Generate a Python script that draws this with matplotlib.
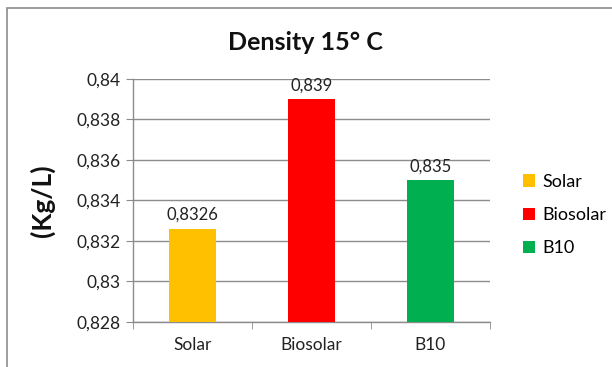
import matplotlib.pyplot as plt
from matplotlib.patches import Rectangle
from matplotlib.ticker import FuncFormatter, FixedLocator

plt.rcParams['font.family'] = ['Lato', 'DejaVu Sans']

categories = ['Solar', 'Biosolar', 'B10']
density = [0.8326, 0.839, 0.835]
labels = ['0,8326', '0,839', '0,835']
colors = ['#FFC000', '#FF0000', '#00B050']
yticks = [0.828, 0.83, 0.832, 0.834, 0.836, 0.838, 0.84]

fig = plt.figure(figsize=(6.12, 3.67), dpi=100)
# chart border (cut off at right and bottom like the original)
fig.patches.append(Rectangle((7 / 612, -0.1), 1.2, 1 - 8 / 367 + 0.1, transform=fig.transFigure,
                             fill=False, edgecolor='#8c8c8c', linewidth=1.2))

ax = fig.add_axes([133 / 612, 1 - 322 / 367, 357 / 612, 243 / 367])
x = range(len(categories))
bars = ax.bar(x, density, width=0.4, color=colors, label=categories, zorder=3)
for b, t in zip(bars, labels):
    ax.text(b.get_x() + b.get_width() / 2, b.get_height() + 0.0003, t,
            ha='center', va='bottom', fontsize=12, color='#222222')

ax.set_xlim(-0.5, 2.5)
ax.set_ylim(0.828, 0.84)
ax.set_yticks(yticks)
ax.yaxis.set_major_formatter(FuncFormatter(lambda v, p: ('%g' % round(v, 4)).replace('.', ',')))
ax.set_xticks(list(x))
ax.set_xticklabels(categories)
ax.xaxis.set_minor_locator(FixedLocator([-0.5, 0.5, 1.5, 2.5]))
ax.tick_params(axis='x', which='major', length=0, pad=11, labelsize=12.5, labelcolor='#222222')
ax.tick_params(axis='x', which='minor', length=5, color='#8c8c8c')
ax.tick_params(axis='y', length=5, color='#8c8c8c', labelsize=12.5, labelcolor='#222222', pad=4)
ax.grid(axis='y', color='#8c8c8c', linewidth=1, zorder=0)
for s in ['top', 'right']:
    ax.spines[s].set_visible(False)
ax.spines['left'].set_color('#8c8c8c')
ax.spines['bottom'].set_color('#8c8c8c')
ax.spines['left'].set_linewidth(1)
ax.spines['bottom'].set_linewidth(1)

fig.text(305 / 612, 1 - 42 / 367, 'Density 15° C', ha='center', va='center',
         fontsize=18, fontweight='bold', color='#111111')
fig.text(42 / 612, 1 - 201 / 367, '(Kg/L)', ha='center', va='center', rotation=90,
         fontsize=19, fontweight='bold', color='#111111')

ax.legend(loc='center left', bbox_to_anchor=(516 / 612, 1 - 215 / 367), bbox_transform=fig.transFigure,
          frameon=False, fontsize=13, handlelength=0.65, handleheight=0.65, handletextpad=0.4,
          labelspacing=0.95, borderaxespad=0)

fig.savefig('out.png', dpi=100)
